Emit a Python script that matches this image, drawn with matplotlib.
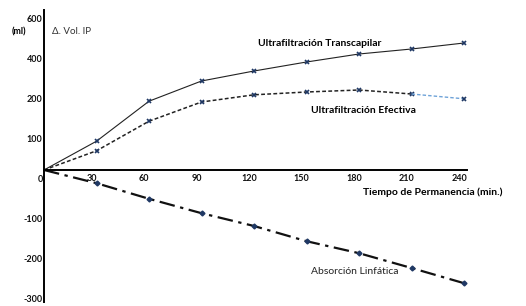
import numpy as np
import matplotlib
matplotlib.use("Agg")
import matplotlib.pyplot as plt
import matplotlib.transforms as mtransforms

# datos (ml)
tiempo = [0, 30, 60, 90, 120, 150, 180, 210, 240]
uf_transcapilar = [0, 72, 172, 245, 295, 340, 380, 405, 435]
uf_efectiva = [0, 48, 122, 170, 188, 195, 200, 190, 178]
absorcion_linfatica = [0, -33, -72, -108, -140, -178, -208, -245, -283]

x_ticks = [30, 60, 90, 120, 150, 180, 210, 240]
y_ticks = [600, 400, 200, 100, 0, -100, -200, -300]

plt.rcParams['font.family'] = ['Lato', 'DejaVu Sans']
navy = '#1f3864'


# eje y comprimido por encima de 200 (como en el original)
def fwd(v):
    v = np.asarray(v, dtype=float)
    return np.where(v <= 200, v, 200 + (v - 200) / 2)


def inv(p):
    p = np.asarray(p, dtype=float)
    return np.where(p <= 200, p, 200 + (p - 200) * 2)


fig = plt.figure(figsize=(5.26, 3.06), dpi=100)
ax = fig.add_axes([44 / 526, 4 / 306, (467 - 44) / 526, (302 - 10) / 306])
ax.set_yscale('function', functions=(fwd, inv))
ax.set_xlim(0, 241.7)
ax.set_ylim(-330, 600)

ax.plot(tiempo, uf_transcapilar, color='#222222', lw=0.8,
        marker='x', ms=3, mec=navy, mew=1.2, markevery=slice(1, None))
ax.plot(tiempo[:-1], uf_efectiva[:-1], color='#222222', lw=1.1, ls=(0, (2.5, 1.5)),
        marker='x', ms=3, mec=navy, mew=1.2, markevery=slice(1, None))
ax.plot(tiempo[-2:], uf_efectiva[-2:], color='#6fa3d8', lw=1.0, ls=(0, (2.5, 1.5)),
        marker='x', ms=3, mec=navy, mew=1.2, markevery=[1])
ax.plot(tiempo, absorcion_linfatica, color='#111111', lw=1.6, ls=(0, (7, 2.5, 1.5, 2.5)),
        marker='D', ms=2.5, mfc=navy, mec=navy, markevery=slice(1, None))

for s in ['top', 'right']:
    ax.spines[s].set_visible(False)
ax.spines['bottom'].set_position(('data', 0))
ax.spines['bottom'].set_linewidth(1.4)
ax.spines['left'].set_linewidth(1.4)

ax.set_xticks(x_ticks)
ax.set_xticklabels([str(v) for v in x_ticks])
ax.set_yticks(y_ticks)
ax.set_yticklabels([str(v) for v in y_ticks])
ax.yaxis.set_minor_locator(matplotlib.ticker.NullLocator())
ax.tick_params(axis='both', length=0, labelsize=6.5, colors='#111111')
ax.tick_params(axis='x', pad=3)
ax.tick_params(axis='y', pad=1)
for lab in ax.get_xticklabels():
    lab.set_fontweight('bold')
    lab.set_transform(lab.get_transform() + mtransforms.ScaledTranslation(-0.05, 0, fig.dpi_scale_trans))
for lab in ax.get_yticklabels():
    lab.set_fontweight('bold')
    lab.set_transform(lab.get_transform() + mtransforms.ScaledTranslation(0, -0.08, fig.dpi_scale_trans))

fig.text(12 / 526, 1 - 32 / 306, '(ml)', fontsize=6.5, fontweight='bold', va='center')
fig.text(52 / 526, 1 - 31 / 306, 'Δ. Vol. IP', fontsize=7, color='#333333', va='center')
fig.text(258 / 526, 1 - 44 / 306, 'Ultrafiltración Transcapilar', fontsize=7.5,
         fontweight='bold', va='center')
fig.text(311 / 526, 1 - 110 / 306, 'Ultrafiltración Efectiva', fontsize=7.5,
         fontweight='bold', va='center')
fig.text(363 / 526, 1 - 192 / 306, 'Tiempo de Permanencia (min.)', fontsize=7.5,
         fontweight='bold', va='center')
fig.text(311 / 526, 1 - 271 / 306, 'Absorción Linfática', fontsize=7.5,
         color='#222222', va='center')

fig.savefig('out.png', dpi=100)
